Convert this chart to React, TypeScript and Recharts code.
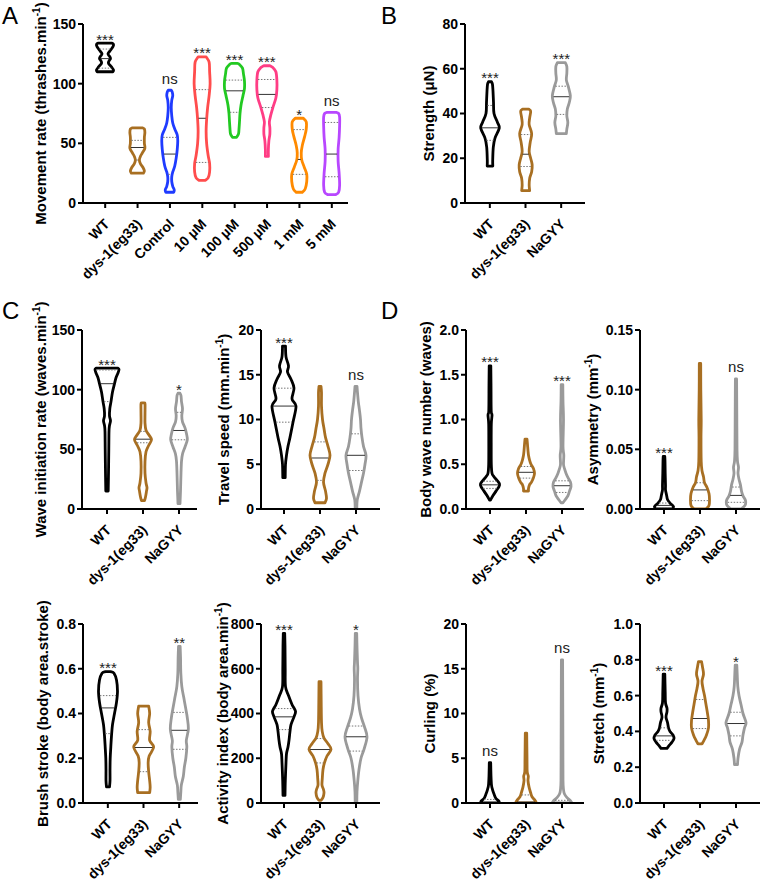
import React from 'react';
import { ComposedChart, Bar, XAxis, YAxis } from 'recharts';

const FONT = '"Liberation Sans", Arial, Helvetica, sans-serif';

// shared groups for panels B-D
const GROUPS = ['WT', 'dys-1(eg33)', 'NaGYY'];
const GROUP_COLORS = ['#000000', '#a86f22', '#9a9a9a'];

// each violin: [value, relative half width] from min to max; quartiles: [q1, median, q3]

// A - movement rate
const A_CATS = ['WT', 'dys-1(eg33)', 'Control', '10 µM', '100 µM', '500 µM', '1 mM', '5 mM'];
const A_COLORS = ['#000000', '#a86f22', '#1f3bff', '#ff4d4d', '#22c922', '#ff3d85', '#ff8a00', '#b847ff'];
const A_SIG = ['***', '', 'ns', '***', '***', '***', '*', 'ns'];
const A_TICKS = [0, 50, 100, 150];
const A_QUART = [[113, 121, 129], [36, 46.5, 52.5], [24, 41, 55], [34, 71, 95], [76, 94, 103], [80, 91, 103.5], [24, 36.5, 61.5], [22, 41, 67.5]];
const A_SHAPES = [
  [[110, 8], [111.5, 8.5], [114, 6.5], [117, 3.5], [119, 4], [121, 5.5], [123, 4.5], [125, 3], [128, 5.5], [131, 8], [133, 8.5], [134, 7]],
  [[25, 6], [27, 7], [30, 5.5], [33, 3], [36, 2], [39, 3], [42, 5], [46, 7.5], [50, 7], [55, 7], [59, 7.5], [62, 7], [63, 5]],
  [[9, 4], [11, 4.5], [14, 3], [18, 2], [22, 2], [26, 3], [31, 5], [38, 6.5], [45, 7.5], [52, 8], [57, 7.5], [62, 5], [67, 3], [73, 2], [80, 1.5], [86, 2], [90, 3], [93, 2.5], [94.5, 1.5]],
  [[19, 3], [21, 6], [26, 7.5], [33, 7.5], [40, 6], [50, 4.5], [60, 4], [70, 4.5], [80, 5.5], [90, 7], [100, 8], [110, 7.5], [118, 7], [122.5, 4]],
  [[55, 2], [58, 4], [62, 4.5], [68, 5], [75, 5.5], [82, 6.5], [90, 8.5], [96, 10], [102, 10], [108, 9], [113, 8], [116, 5], [117, 3]],
  [[39, 1.5], [45, 1.5], [52, 2], [58, 3], [63, 3], [68, 2.5], [74, 4], [80, 6], [88, 9], [95, 10], [103, 10], [110, 9], [113.5, 6], [115, 3]],
  [[9, 3], [12, 6], [18, 7.5], [24, 7.5], [30, 5], [36, 2.5], [42, 2], [48, 3], [56, 5.5], [62, 7], [68, 7], [71, 4]],
  [[7, 4], [9, 7], [15, 8], [25, 7.5], [35, 6.5], [45, 6.5], [55, 7.5], [65, 8], [72, 8], [75, 7], [76, 4]],
];

// B - strength
const B_SIG = ['***', '', '***'];
const B_TICKS = [0, 20, 40, 60, 80];
const B_QUART = [[28, 33.6, 43.6], [16.3, 21.8, 30.6], [39.6, 47.5, 52.2]];
const B_SHAPES = [
  [[16.5, 2.8], [19, 2.7], [25, 3.3], [29, 5], [33.5, 9.3], [36, 7.5], [40, 4], [45, 3.5], [50, 3], [53, 2.5], [54.2, 1.5]],
  [[5.5, 4], [8, 3.5], [11, 4], [14, 6], [17, 6.5], [20, 5], [23, 3.5], [27, 4.5], [31, 6], [35, 3.5], [38, 4], [41, 5], [42, 3]],
  [[31, 5], [33, 5.5], [36, 6.5], [39, 5.5], [42, 6], [45, 8], [48, 9], [52, 7], [55, 5], [58, 5.5], [61, 5.5], [62.7, 4]],
];

// C - wave initiation rate
const WAVE_SIG = ['***', '', '*'];
const WAVE_TICKS = [0, 50, 100, 150];
const WAVE_QUART = [[90, 105, 116.5], [55.5, 58.5, 65], [58, 65.8, 81]];
const WAVE_SHAPES = [
  [[15, 1.2], [30, 1.5], [50, 1.8], [65, 2], [70, 2.5], [74, 3.5], [78, 2.5], [84, 2.8], [90, 4], [98, 5.5], [105, 7.5], [110, 9], [114, 11], [117, 12], [118, 11]],
  [[7, 1.5], [10, 2.5], [15, 3.5], [18, 4], [22, 3], [30, 2], [40, 2], [48, 3], [53, 5.5], [58, 8.5], [62, 6], [66, 3], [72, 2], [80, 2], [88, 2], [89, 1]],
  [[4.5, 1], [15, 1.5], [30, 2], [40, 2.5], [46, 3.5], [52, 6], [58, 8.3], [63, 7.5], [68, 6], [73, 3.5], [78, 2.8], [84, 3.5], [90, 2.5], [95, 2], [97, 1]],
];

// C - travel speed
const TRAVEL_SIG = ['***', '', 'ns'];
const TRAVEL_TICKS = [0, 5, 10, 15, 20];
const TRAVEL_QUART = [[9.7, 11.5, 13.5], [3.2, 5.7, 7.5], [4.3, 6.0, 8.4]];
const TRAVEL_SHAPES = [
  [[3.5, 1.2], [5, 1.5], [6, 2.5], [7, 4], [8, 6], [9.7, 9], [11.5, 12], [12.3, 8], [13.5, 10], [14.5, 7], [15.3, 3.5], [16, 4.5], [17, 2], [18.2, 1.5]],
  [[0.7, 5], [1.2, 6.5], [2, 5.5], [3, 3.5], [4, 5], [5, 8], [6, 10], [7, 8], [8, 5.5], [9, 4], [10, 2.5], [11.5, 1.5], [13, 1.5], [13.7, 1]],
  [[0, 0.8], [1, 1.2], [2, 3.5], [3, 5.5], [4, 7.5], [5, 9], [6, 10], [7, 7.5], [8, 6], [9, 5], [10, 4.5], [11, 3.5], [12, 2.3], [13, 1.5], [13.7, 1]],
];

// D - body wave number
const BODY_SIG = ['***', '', '***'];
const BODY_TICKS = [0, 0.5, 1, 1.5, 2];
const BODY_QUART = [[0.23, 0.27, 0.31], [0.345, 0.41, 0.475], [0.185, 0.26, 0.315]];
const BODY_SHAPES = [
  [[0.1, 0.5], [0.15, 3], [0.2, 6], [0.25, 9], [0.28, 9.5], [0.32, 7], [0.36, 4], [0.4, 2], [0.5, 1.3], [0.7, 1.2], [0.95, 1.3], [1.05, 2], [1.1, 1.2], [1.4, 1], [1.6, 0.8]],
  [[0.2, 2.5], [0.23, 2.5], [0.27, 3.5], [0.3, 5.5], [0.35, 7.5], [0.4, 8.5], [0.45, 7.5], [0.5, 5], [0.55, 3.5], [0.6, 2.5], [0.65, 2], [0.72, 1.5], [0.78, 1]],
  [[0.07, 1], [0.1, 3], [0.15, 6], [0.2, 7.5], [0.25, 9], [0.3, 8.5], [0.35, 6], [0.4, 4], [0.45, 2.5], [0.5, 1.5], [0.6, 1.8], [0.7, 1], [1.0, 1.5], [1.2, 1], [1.39, 0.8]],
];

// D - asymmetry
const ASYM_SIG = ['***', '', 'ns'];
const ASYM_TICKS = [0, 0.05, 0.1, 0.15];
const ASYM_QUART = [[0.001, 0.003, 0.005], [0.007, 0.016, 0.022], [0.0056, 0.0114, 0.0184]];
const ASYM_SHAPES = [
  [[0, 8], [0.002, 9.5], [0.005, 6], [0.008, 3.5], [0.012, 2.5], [0.016, 1.5], [0.02, 1.5], [0.03, 1.2], [0.04, 1], [0.044, 0.8]],
  [[0, 6], [0.003, 9], [0.008, 9.5], [0.013, 9], [0.018, 7], [0.022, 4.5], [0.027, 3.5], [0.032, 2], [0.04, 1.2], [0.06, 1], [0.075, 1.2], [0.1, 0.8], [0.122, 0.7]],
  [[0, 5], [0.003, 9], [0.007, 9.5], [0.011, 7], [0.015, 5.5], [0.02, 4.5], [0.025, 3], [0.03, 2], [0.035, 2.5], [0.04, 1.5], [0.05, 1], [0.08, 0.8], [0.109, 0.6]],
];

// C - brush stroke
const BRUSH_SIG = ['***', '', '**'];
const BRUSH_TICKS = [0, 0.2, 0.4, 0.6, 0.8];
const BRUSH_QUART = [[0.31, 0.425, 0.48], [0.14, 0.248, 0.328], [0.24, 0.325, 0.405]];
const BRUSH_SHAPES = [
  [[0.072, 1.5], [0.1, 2], [0.15, 2], [0.2, 2.2], [0.25, 2.8], [0.3, 3.5], [0.35, 4.5], [0.4, 6.5], [0.45, 8.5], [0.5, 9.5], [0.55, 8.5], [0.58, 6], [0.587, 3]],
  [[0.046, 6], [0.07, 6.5], [0.1, 6], [0.14, 5], [0.18, 4.5], [0.21, 5.5], [0.25, 10], [0.28, 6], [0.32, 6.5], [0.36, 5], [0.4, 6], [0.433, 5]],
  [[0.016, 1], [0.05, 1.5], [0.08, 2], [0.12, 4], [0.16, 5], [0.2, 6.5], [0.25, 7.5], [0.28, 7], [0.33, 9], [0.38, 8], [0.42, 6.5], [0.47, 4.5], [0.52, 2.5], [0.58, 1.5], [0.65, 1.2], [0.7, 0.8]],
];

// C - activity index
const ACT_SIG = ['***', '', '*'];
const ACT_TICKS = [0, 200, 400, 600, 800];
const ACT_QUART = [[328, 385, 422], [179, 239, 288], [232, 296, 344]];
const ACT_SHAPES = [
  [[34, 1], [100, 1.3], [180, 2], [220, 2.5], [250, 4], [280, 5], [320, 6], [350, 7], [385, 10], [410, 11.5], [440, 8], [480, 4.5], [520, 1.5], [600, 1.2], [700, 1], [758, 0.7]],
  [[12, 1], [25, 3], [45, 4], [60, 3.5], [80, 2], [110, 2.3], [150, 3], [180, 4.5], [210, 7], [240, 11], [265, 8], [290, 4], [320, 2.2], [360, 1.5], [450, 1.2], [542, 1]],
  [[0, 0.8], [50, 1], [100, 1.8], [150, 3], [200, 5], [240, 8], [295, 11], [340, 8.5], [380, 5.5], [420, 3.5], [480, 2], [550, 1.5], [600, 1.8], [630, 1.5], [700, 1], [758, 0.7]],
];

// D - curling
const CURL_SIG = ['ns', '', 'ns'];
const CURL_TICKS = [0, 5, 10, 15, 20];
const CURL_QUART = [[0, 0.05, 0.4], [0, 0.1, 0.9], [0, 0, 0.3]];
const CURL_SHAPES = [
  [[0, 9], [0.2, 9], [0.5, 6], [1, 4], [1.5, 2.5], [2, 1.5], [3, 1], [4.5, 0.7]],
  [[0, 10.5], [0.3, 9], [0.7, 6], [1.2, 4.5], [1.8, 3], [2.5, 2], [3, 2.3], [3.5, 1.2], [5, 1], [7.8, 0.7]],
  [[0, 10], [0.3, 8], [0.6, 5], [1, 2.5], [1.5, 1.5], [2.5, 1], [6, 0.9], [10, 0.8], [16, 0.6]],
];

// D - stretch
const STRETCH_SIG = ['***', '', '*'];
const STRETCH_TICKS = [0, 0.2, 0.4, 0.6, 0.8, 1];
const STRETCH_QUART = [[0.35, 0.375, 0.42], [0.416, 0.472, 0.578], [0.375, 0.444, 0.507]];
const STRETCH_SHAPES = [
  [[0.305, 3], [0.32, 5], [0.34, 8], [0.36, 10], [0.38, 9], [0.4, 6], [0.42, 4.5], [0.45, 3.5], [0.48, 2], [0.51, 3], [0.53, 3], [0.56, 1.5], [0.62, 1.2], [0.72, 0.8]],
  [[0.33, 2], [0.35, 4], [0.38, 6.5], [0.42, 8.5], [0.46, 8.5], [0.5, 7.5], [0.55, 6], [0.6, 4.5], [0.64, 3], [0.68, 2], [0.72, 3.5], [0.76, 2.5], [0.79, 1.5]],
  [[0.215, 1.5], [0.25, 2], [0.3, 3.5], [0.34, 6], [0.38, 7], [0.42, 8.5], [0.45, 10], [0.5, 7], [0.55, 5], [0.6, 3], [0.65, 1.8], [0.72, 1.2], [0.77, 0.8]],
];

const PANELS = [
  { id: 'A', axisX: 83, top: 24, bottom: 203, right: 348, padL: 6, padR: 0, cats: A_CATS, colors: A_COLORS, shapes: A_SHAPES, quart: A_QUART, sig: A_SIG, ticks: A_TICKS, dec: 0, title: 'Movement rate (thrashes.min', sup: '-1', dist: 37.5 },
  { id: 'B', axisX: 465, top: 24, bottom: 203, right: 585, padL: 7, padR: 6, cats: GROUPS, colors: GROUP_COLORS, shapes: B_SHAPES, quart: B_QUART, sig: B_SIG, ticks: B_TICKS, dec: 0, title: 'Strength (μN)', sup: '', dist: 31.5 },
  { id: 'wave', axisX: 82, top: 330, bottom: 509, right: 197, padL: 7, padR: 0, cats: GROUPS, colors: GROUP_COLORS, shapes: WAVE_SHAPES, quart: WAVE_QUART, sig: WAVE_SIG, ticks: WAVE_TICKS, dec: 0, title: 'Wave initiation rate (waves.min', sup: '-1', dist: 36.5 },
  { id: 'travel', axisX: 261, top: 330, bottom: 509, right: 380, padL: 5, padR: 6, cats: GROUPS, colors: GROUP_COLORS, shapes: TRAVEL_SHAPES, quart: TRAVEL_QUART, sig: TRAVEL_SIG, ticks: TRAVEL_TICKS, dec: 0, title: 'Travel speed (mm.min', sup: '-1', dist: 32.5 },
  { id: 'body', axisX: 466, top: 330, bottom: 509, right: 584, padL: 6, padR: 4, cats: GROUPS, colors: GROUP_COLORS, shapes: BODY_SHAPES, quart: BODY_QUART, sig: BODY_SIG, ticks: BODY_TICKS, dec: 1, title: 'Body wave number (waves)', sup: '', dist: 35.5 },
  { id: 'asym', axisX: 640, top: 330, bottom: 509, right: 760, padL: 6, padR: 6, cats: GROUPS, colors: GROUP_COLORS, shapes: ASYM_SHAPES, quart: ASYM_QUART, sig: ASYM_SIG, ticks: ASYM_TICKS, dec: 2, title: 'Asymmetry (mm', sup: '-1', dist: 42.5 },
  { id: 'brush', axisX: 83, top: 624, bottom: 803, right: 198, padL: 7, padR: 1, cats: GROUPS, colors: GROUP_COLORS, shapes: BRUSH_SHAPES, quart: BRUSH_QUART, sig: BRUSH_SIG, ticks: BRUSH_TICKS, dec: 1, title: 'Brush stroke (body area.stroke)', sup: '', dist: 35.5 },
  { id: 'act', axisX: 261, top: 624, bottom: 803, right: 380, padL: 5, padR: 6, cats: GROUPS, colors: GROUP_COLORS, shapes: ACT_SHAPES, quart: ACT_QUART, sig: ACT_SIG, ticks: ACT_TICKS, dec: 0, title: 'Activity index (body area.min', sup: '-1', dist: 33.5 },
  { id: 'curl', axisX: 466, top: 624, bottom: 803, right: 584, padL: 6, padR: 4, cats: GROUPS, colors: GROUP_COLORS, shapes: CURL_SHAPES, quart: CURL_QUART, sig: CURL_SIG, ticks: CURL_TICKS, dec: 0, title: 'Curling (%)', sup: '', dist: 31.5 },
  { id: 'stretch', axisX: 640, top: 624, bottom: 803, right: 760, padL: 6, padR: 6, cats: GROUPS, colors: GROUP_COLORS, shapes: STRETCH_SHAPES, quart: STRETCH_QUART, sig: STRETCH_SIG, ticks: STRETCH_TICKS, dec: 1, title: 'Stretch (mm', sup: '-1', dist: 36.5 },
];

const LETTERS = [
  { t: 'A', x: 2, y: 4 },
  { t: 'B', x: 381, y: 4 },
  { t: 'C', x: 2, y: 299 },
  { t: 'D', x: 381, y: 299 },
];

const smooth = (pts) => {
  let d = '';
  for (let i = 0; i < pts.length - 1; i++) {
    const p0 = pts[i - 1] || pts[i];
    const p1 = pts[i];
    const p2 = pts[i + 1];
    const p3 = pts[i + 2] || pts[i + 1];
    const c1x = p1[0] + (p2[0] - p0[0]) / 6;
    const c1y = p1[1] + (p2[1] - p0[1]) / 6;
    const c2x = p2[0] - (p3[0] - p1[0]) / 6;
    const c2y = p2[1] - (p3[1] - p1[1]) / 6;
    d += ` C${c1x},${c1y} ${c2x},${c2y} ${p2[0]},${p2[1]}`;
  }
  return d;
};

const widthAt = (profile, v) => {
  if (v <= profile[0][0]) return profile[0][1];
  for (let i = 1; i < profile.length; i++) {
    if (v <= profile[i][0]) {
      const [v0, w0] = profile[i - 1];
      const [v1, w1] = profile[i];
      return w0 + ((v - v0) / (v1 - v0)) * (w1 - w0);
    }
  }
  return profile[profile.length - 1][1];
};

const Violin = (props) => {
  const { x, y, width, height } = props;
  const p = props.payload || props;
  if (x == null || !p || !p.profile) return null;
  const top = Math.min(y, y + height);
  const bot = Math.max(y, y + height);
  const [lo, hi] = p.range;
  const py = (v) => bot - ((v - lo) / (hi - lo)) * (bot - top);
  const cx = x + width / 2;
  const right = p.profile.map(([v, w]) => [cx + w, py(v)]);
  const left = p.profile.slice().reverse().map(([v, w]) => [cx - w, py(v)]);
  const d = `M${right[0][0]},${right[0][1]}${smooth(right)} L${left[0][0]},${left[0][1]}${smooth(left)} Z`;
  const [q1, med, q3] = p.quart;
  const hline = (v, dash, color) => {
    const w = Math.max(widthAt(p.profile, v) - 1, 0);
    return <line x1={cx - w} x2={cx + w} y1={py(v)} y2={py(v)} stroke={color} strokeWidth={1} strokeDasharray={dash} />;
  };
  const stars = p.sig.startsWith('*');
  return (
    <g>
      <path d={d} fill="#fff" stroke={p.color} strokeWidth={2.8} strokeLinejoin="round" />
      {hline(q1, '1.5 1.5', '#777')}
      {hline(q3, '1.5 1.5', '#777')}
      {hline(med, undefined, '#333')}
      {p.sig && (
        <text x={cx} y={stars ? top + 1.5 : top - 6.5} textAnchor="middle" fontSize={15} fontFamily={FONT} fill="#222">
          {p.sig}
        </text>
      )}
    </g>
  );
};

const CatTick = (props) => {
  const { x, y, payload } = props;
  const px = x + 5;
  const py = y + 15;
  return (
    <text x={px} y={py} transform={`rotate(-45 ${px} ${py})`} textAnchor="end" fontSize={14} fontWeight={700} fontFamily={FONT} fill="#000">
      {payload.value}
    </text>
  );
};

const YTitle = ({ tx, ty, text, sup }) => (
  <text x={tx} y={ty} transform={`rotate(-90 ${tx} ${ty})`} textAnchor="middle" fontSize={15} fontWeight={700} fontFamily={FONT} fill="#000">
    {text}
    {sup ? (
      <>
        <tspan dy={-6} fontSize={10}>{sup}</tspan>
        <tspan dy={6}>)</tspan>
      </>
    ) : null}
  </text>
);

const M_TOP = 45;
const Y_W = 80;
const X_H = 90;

const Panel = ({ cfg }) => {
  const data = cfg.cats.map((name, i) => ({
    name,
    range: [cfg.shapes[i][0][0], cfg.shapes[i][cfg.shapes[i].length - 1][0]],
    profile: cfg.shapes[i],
    quart: cfg.quart[i],
    sig: cfg.sig[i],
    color: cfg.colors[i],
  }));
  const plotH = cfg.bottom - cfg.top;
  const w = cfg.right - cfg.axisX + Y_W + 4;
  const h = plotH + M_TOP + X_H;
  const max = cfg.ticks[cfg.ticks.length - 1];
  return (
    <div style={{ position: 'absolute', left: cfg.axisX - Y_W, top: cfg.top - M_TOP }}>
      <ComposedChart width={w} height={h} data={data} margin={{ top: M_TOP, right: 4, bottom: 0, left: 0 }} barCategoryGap={0} style={{ overflow: 'visible' }}>
        <XAxis
          dataKey="name"
          type="category"
          interval={0}
          height={X_H}
          padding={{ left: cfg.padL, right: cfg.padR }}
          axisLine={{ stroke: '#000', strokeWidth: 2 }}
          tickLine={{ stroke: '#000', strokeWidth: 2 }}
          tickSize={5}
          tick={<CatTick />}
        />
        <YAxis
          type="number"
          domain={[0, max]}
          ticks={cfg.ticks}
          allowDataOverflow
          width={Y_W}
          axisLine={{ stroke: '#000', strokeWidth: 2 }}
          tickLine={{ stroke: '#000', strokeWidth: 2 }}
          tickSize={5}
          tickFormatter={(v) => v.toFixed(cfg.dec)}
          tick={{ fill: '#000', fontSize: 14, fontWeight: 700, fontFamily: FONT }}
          label={<YTitle tx={Y_W - cfg.dist} ty={M_TOP + plotH / 2} text={cfg.title} sup={cfg.sup} />}
        />
        <Bar dataKey="range" isAnimationActive={false} shape={(p) => <Violin {...p} />} />
      </ComposedChart>
    </div>
  );
};

export default function App() {
  return (
    <div style={{ position: 'absolute', left: 0, top: 0, width: 762, height: 883, background: '#fff', fontFamily: FONT, overflow: 'hidden' }}>
      {PANELS.map((cfg) => (
        <Panel key={cfg.id} cfg={cfg} />
      ))}
      {LETTERS.map((l) => (
        <div key={l.t} style={{ position: 'absolute', left: l.x, top: l.y, fontSize: 24, lineHeight: 1, fontFamily: FONT, color: '#000' }}>
          {l.t}
        </div>
      ))}
    </div>
  );
}
